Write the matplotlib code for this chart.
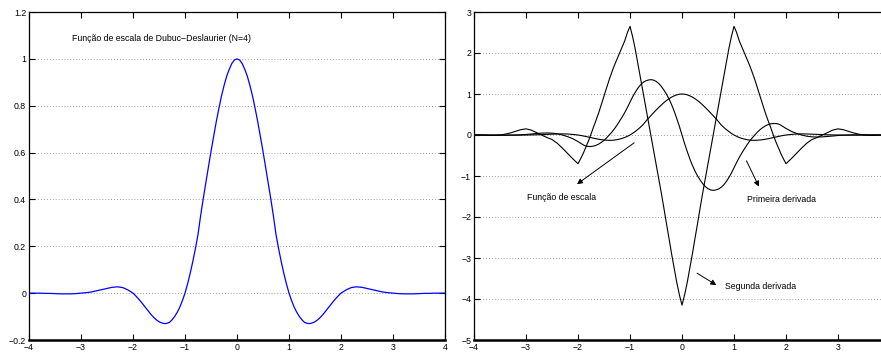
import numpy as np
import matplotlib
matplotlib.use("Agg")
import matplotlib.pyplot as plt

plt.rcParams["font.family"] = ["Liberation Sans", "DejaVu Sans"]

# sample positions: 0.1 steps in the tails, 0.05 steps over [-2, 2]
x = np.concatenate([np.linspace(-4, -2.1, 20),
                    np.linspace(-2, 2, 81),
                    np.linspace(2.1, 4, 20)])

# Dubuc-Deslaurier scaling function
phi = [0.0, 0.0, 0.0, -0.001, -0.001, -0.002, -0.003, -0.003, -0.003, -0.002,
       0.0, 0.002, 0.005, 0.010, 0.015, 0.020, 0.025, 0.027, 0.024, 0.014,
       0.0, -0.011, -0.023, -0.036, -0.050, -0.064, -0.078, -0.092, -0.104, -0.114,
       -0.122, -0.127, -0.130, -0.129, -0.125, -0.114, -0.100, -0.082, -0.060, -0.032,
       0.0, 0.040, 0.085, 0.135, 0.190, 0.250, 0.330, 0.402, 0.470, 0.538,
       0.605, 0.668, 0.730, 0.787, 0.840, 0.885, 0.925, 0.955, 0.980, 0.995,
       1.0,
       0.995, 0.980, 0.955, 0.925, 0.885, 0.840, 0.787, 0.730, 0.668, 0.605,
       0.538, 0.470, 0.402, 0.330, 0.250, 0.190, 0.135, 0.085, 0.040, 0.0,
       -0.032, -0.060, -0.082, -0.100, -0.114, -0.125, -0.129, -0.130, -0.127, -0.122,
       -0.114, -0.104, -0.092, -0.078, -0.064, -0.050, -0.036, -0.023, -0.011, 0.0,
       0.014, 0.024, 0.027, 0.025, 0.020, 0.015, 0.010, 0.005, 0.002, 0.0,
       -0.002, -0.003, -0.003, -0.003, -0.002, -0.001, -0.001, 0.0, 0.0, 0.0]

# first derivative
dphi = [0.0, 0.0, -0.001, -0.003, -0.004, -0.005, -0.005, -0.003, 0.0, 0.005,
        0.012, 0.025, 0.035, 0.045, 0.05, 0.045, 0.03, 0.0, -0.04, -0.09,
        -0.16, -0.20, -0.24, -0.27, -0.28, -0.28, -0.27, -0.25, -0.22, -0.18,
        -0.13, -0.07, 0.0, 0.07, 0.15, 0.24, 0.34, 0.44, 0.55, 0.67,
        0.80, 0.93, 1.04, 1.14, 1.22, 1.28, 1.32, 1.34, 1.35, 1.34,
        1.31, 1.26, 1.19, 1.10, 1.00, 0.88, 0.74, 0.58, 0.40, 0.21,
        0.0,
        -0.21, -0.40, -0.58, -0.74, -0.88, -1.00, -1.10, -1.19, -1.26, -1.31,
        -1.34, -1.35, -1.34, -1.32, -1.28, -1.22, -1.14, -1.04, -0.93, -0.80,
        -0.67, -0.55, -0.44, -0.34, -0.24, -0.15, -0.07, 0.0, 0.07, 0.13,
        0.18, 0.22, 0.25, 0.27, 0.28, 0.28, 0.27, 0.24, 0.20, 0.16,
        0.09, 0.04, 0.0, -0.03, -0.045, -0.05, -0.045, -0.035, -0.025, -0.012,
        -0.005, 0.0, 0.003, 0.005, 0.005, 0.004, 0.003, 0.001, 0.0, 0.0]

# second derivative
d2phi = [0.0, 0.0, -0.005, -0.01, -0.01, 0.0, 0.02, 0.05, 0.09, 0.13,
         0.15, 0.12, 0.06, 0.0, -0.06, -0.11, -0.2, -0.32, -0.45, -0.58,
         -0.7, -0.58, -0.45, -0.3, -0.15, 0.02, 0.2, 0.37, 0.55, 0.75,
         0.95, 1.15, 1.35, 1.53, 1.7, 1.85, 2.0, 2.15, 2.3, 2.5,
         2.65, 2.4, 2.1, 1.75, 1.4, 1.05, 0.7, 0.35, 0.0, -0.35,
         -0.7, -1.05, -1.4, -1.77, -2.15, -2.52, -2.9, -3.25, -3.6, -3.9,
         -4.15,
         -3.9, -3.6, -3.25, -2.9, -2.52, -2.15, -1.77, -1.4, -1.05, -0.7,
         -0.35, 0.0, 0.35, 0.7, 1.05, 1.4, 1.75, 2.1, 2.4, 2.65,
         2.5, 2.3, 2.15, 2.0, 1.85, 1.7, 1.53, 1.35, 1.15, 0.95,
         0.75, 0.55, 0.37, 0.2, 0.02, -0.15, -0.3, -0.45, -0.58, -0.7,
         -0.58, -0.45, -0.32, -0.2, -0.11, -0.06, 0.0, 0.06, 0.12, 0.15,
         0.13, 0.09, 0.05, 0.02, 0.0, -0.01, -0.01, -0.005, 0.0, 0.0]

left_yticks = [-0.2, 0, 0.2, 0.4, 0.6, 0.8, 1, 1.2]
left_ylabels = ["\u22120.2", "0", "0.2", "0.4", "0.6", "0.8", "1", "1.2"]
left_xticks = [-4, -3, -2, -1, 0, 1, 2, 3, 4]
right_yticks = [-5, -4, -3, -2, -1, 0, 1, 2, 3]
right_xticks = [-4, -3, -2, -1, 0, 1, 2, 3]


def fmt(v):
    return str(v).replace("-", "\u2212")


def style(ax, xt, yt, ylabels):
    ax.set_xticks(xt)
    ax.set_xticklabels([fmt(v) for v in xt])
    ax.set_yticks(yt)
    ax.set_yticklabels(ylabels)
    ax.tick_params(direction="in", length=4, width=0.8, labelsize=6.3,
                   top=True, right=True, pad=2)
    ax.yaxis.grid(True, linestyle=(0, (1, 2.5)), color="0.5", linewidth=0.6)
    ax.set_axisbelow(True)
    for s in ("top", "right", "left"):
        ax.spines[s].set_linewidth(0.9)
    ax.spines["bottom"].set_linewidth(1.8)


fig = plt.figure(figsize=(8.81, 3.52), dpi=100)

ax1 = fig.add_axes([29 / 881, 12 / 352, 416 / 881, 328 / 352])
ax1.plot(x, phi, color="#0000ff", lw=0.9)
ax1.set_xlim(-4, 4)
ax1.set_ylim(-0.2, 1.2)
style(ax1, left_xticks, left_yticks, left_ylabels)
ax1.text(-3.18, 1.085, "Função de escala de Dubuc\u2212Deslaurier (N=4)",
         fontsize=6.3, va="center", ha="left")

ax2 = fig.add_axes([474 / 881, 12 / 352, 416 / 881, 328 / 352])
ax2.plot(x, phi, color="k", lw=0.8)
ax2.plot(x, dphi, color="k", lw=0.8)
ax2.plot(x, d2phi, color="k", lw=0.8)
ax2.set_xlim(-4, 4)
ax2.set_ylim(-5, 3)
style(ax2, right_xticks, right_yticks, [fmt(v) for v in right_yticks])

arrow = dict(arrowstyle="-|>", lw=0.7, color="k", mutation_scale=8,
             shrinkA=0, shrinkB=0)
ax2.annotate("", xy=(-2.02, -1.20), xytext=(-0.92, -0.19), arrowprops=arrow)
ax2.annotate("", xy=(1.48, -1.26), xytext=(1.24, -0.63), arrowprops=arrow)
ax2.annotate("", xy=(0.66, -3.66), xytext=(0.29, -3.37), arrowprops=arrow)
ax2.text(-2.99, -1.53, "Função de escala", fontsize=6.3, va="center", ha="left")
ax2.text(1.25, -1.585, "Primeira derivada", fontsize=6.3, va="center", ha="left")
ax2.text(0.83, -3.70, "Segunda derivada", fontsize=6.3, va="center", ha="left")

fig.savefig("out.png", dpi=100)
